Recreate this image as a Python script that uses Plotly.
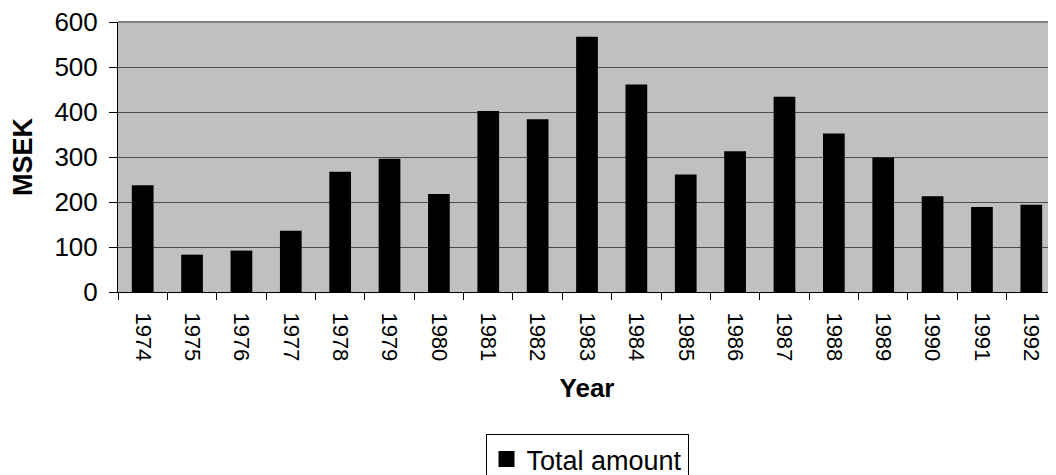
import plotly.graph_objects as go

years = ["1974", "1975", "1976", "1977", "1978", "1979", "1980", "1981", "1982", "1983",
         "1984", "1985", "1986", "1987", "1988", "1989", "1990", "1991", "1992"]
total_amount = [237, 83, 92, 136, 267, 296, 218, 402, 384, 567,
                461, 261, 313, 434, 352, 299, 213, 189, 194]
y_ticks = [0, 100, 200, 300, 400, 500, 600]
series_name = "Total amount"

FONT = "Liberation Sans, Arial, sans-serif"

# the page body has an 8px margin, so the figure is sized to fit the window
W, H = 1048, 467

fig = go.Figure()
fig.add_trace(go.Bar(
    x=years, y=total_amount, name=series_name,
    marker=dict(color="#000000", line=dict(width=0)),
    showlegend=False,
))
# legend-only entry with a larger square swatch
fig.add_trace(go.Scatter(
    x=[None], y=[None], mode="markers", name=series_name,
    marker=dict(symbol="square", size=17, color="#000000"),
    showlegend=True, hoverinfo="skip",
))

# top border of the plot area
fig.add_shape(type="line", xref="x domain", yref="y domain",
              x0=0, x1=1, y0=1, y1=1,
              line=dict(color="#808080", width=2), layer="above")

fig.update_layout(
    width=W, height=H,
    margin=dict(l=110, r=0, t=14, b=H - 14 - 270, autoexpand=False),
    paper_bgcolor="#ffffff",
    plot_bgcolor="#c0c0c0",
    bargap=0.56,
    font=dict(family=FONT, color="#000000"),
    showlegend=True,
    legend=dict(
        xref="paper", x=0.5, xanchor="center",
        yref="container", y=1 - 426 / H, yanchor="top",
        bordercolor="#000000", borderwidth=1, bgcolor="#ffffff",
        font=dict(family=FONT, size=27, color="#000000"),
        itemwidth=30,
    ),
    xaxis=dict(
        type="category",
        range=[-0.5, 18.5],
        tickangle=90,
        tickfont=dict(family=FONT, size=22),
        ticks="outside", ticklen=7, tickcolor="#000000", tickwidth=1,
        tickson="boundaries",
        showline=True, linecolor="#000000", linewidth=1,
        showgrid=False,
        automargin=False,
        ticklabelstandoff=15,
        title=dict(text="<b>Year</b>", font=dict(family=FONT, size=26), standoff=18),
    ),
    yaxis=dict(
        range=[0, 600],
        tickvals=y_ticks,
        tickfont=dict(family=FONT, size=26),
        ticks="outside", ticklen=8, tickcolor="#000000", tickwidth=1,
        showline=True, linecolor="#000000", linewidth=1,
        showgrid=True, gridcolor="#4d4d4d", gridwidth=1,
        zeroline=False,
        automargin=False,
        ticklabeloverflow="allow",
        ticklabelstandoff=6,
        title=dict(text="<b>MSEK</b>", font=dict(family=FONT, size=27), standoff=17),
    ),
)

fig.write_html("out.html")
